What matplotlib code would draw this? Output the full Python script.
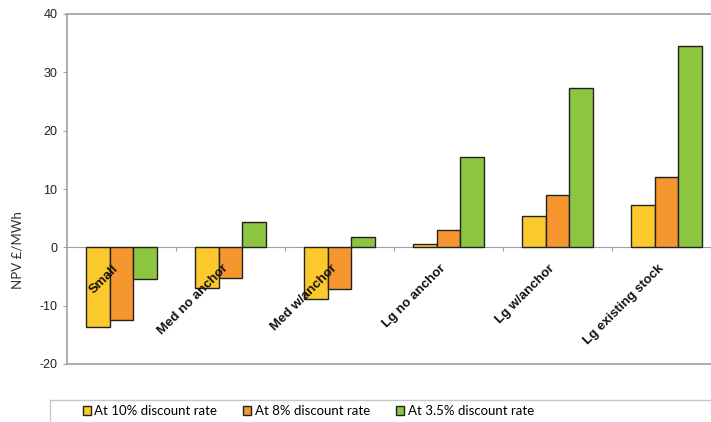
import numpy as np
import matplotlib.pyplot as plt
from matplotlib.patches import Rectangle

categories = ['Small', 'Med no anchor', 'Med w/anchor', 'Lg no anchor', 'Lg w/anchor', 'Lg existing stock']
rate_10 = [-13.6, -7.0, -8.8, 0.6, 5.35, 7.2]
rate_8 = [-12.4, -5.2, -7.1, 2.9, 8.9, 12.0]
rate_35 = [-5.5, 4.3, 1.8, 15.5, 27.3, 34.6]
series_labels = ['At 10% discount rate', 'At 8% discount rate', 'At 3.5% discount rate']
colors = ['#FCC92C', '#F5962F', '#8CC640']
yticks = [-20, -10, 0, 10, 20, 30, 40]

W, H = 711, 422
fig = plt.figure(figsize=(W / 100, H / 100), dpi=100)
ax = fig.add_axes([67 / W, 1 - 364 / H, 654 / W, 350 / H])

x = np.arange(len(categories))
bw = 0.22
bars = []
for i, (vals, c) in enumerate(zip([rate_10, rate_8, rate_35], colors)):
    b = ax.bar(x + (i - 1) * bw, vals, bw, color=c, edgecolor='#222222', linewidth=1.0, zorder=3)
    bars.append(b)

ax.set_xlim(-0.5, len(categories) - 0.5)
ax.set_ylim(-20, 40)

gray = '#a0a0a0'
# bottom spine sits on the zero line, frame bottom drawn separately
ax.spines['bottom'].set_position(('data', 0))
ax.spines['bottom'].set_color(gray)
ax.spines['bottom'].set_zorder(2)
ax.spines['left'].set_color(gray)
ax.spines['left'].set_linewidth(1.2)
ax.spines['top'].set_color(gray)
ax.spines['top'].set_linewidth(1.2)
ax.spines['right'].set_visible(False)
ax.axhline(-20, color=gray, linewidth=1.2, clip_on=False)

ax.set_xticks(np.arange(1, len(categories)) - 0.5)
ax.set_xticklabels([])
ax.tick_params(axis='x', direction='out', length=3, color=gray)
ax.set_yticks(yticks)
ax.set_yticklabels([str(v) for v in yticks], fontsize=9, family='Liberation Sans', color='#222222')
ax.tick_params(axis='y', direction='out', length=3, color=gray, pad=4)

for xi, lab in zip(x, categories):
    ax.text(xi - 0.08, -2.6, lab, rotation=45, rotation_mode='anchor', ha='right', va='top',
            fontsize=9.5, fontweight='bold', family='Liberation Sans', color='#111111', zorder=5)

fig.text(18 / W, 1 - 250 / H, 'NPV £/MWh', rotation=90, ha='center', va='center',
         fontsize=9.5, family='Lato', color='#333333')

# legend frame
fig.patches.append(Rectangle((50 / W, -0.05), 700 / W, (1 - 400 / H) + 0.05,
                             transform=fig.transFigure, facecolor='white', edgecolor='#c8c8c8', linewidth=1.0))
fig.legend(handles=bars, labels=series_labels, loc='center left', bbox_to_anchor=(71 / W, 1 - 411 / H),
           ncol=3, frameon=False, handlelength=0.6, handleheight=0.6, handletextpad=0.25,
           columnspacing=2.0, prop={'family': 'Lato', 'size': 9.5})

fig.savefig('out.png', dpi=100)
